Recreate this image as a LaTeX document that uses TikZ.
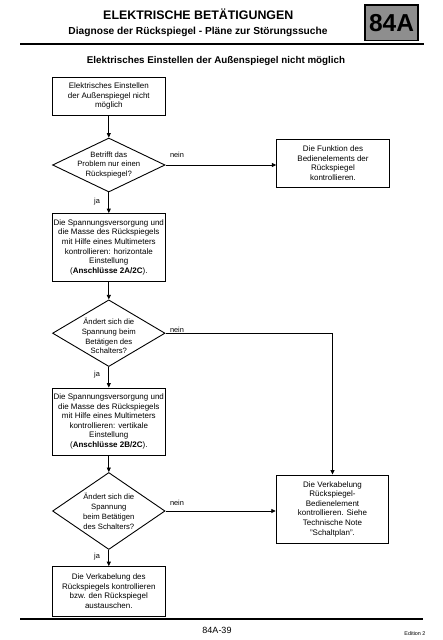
\documentclass[tikz,border=0pt]{standalone}
\usepackage{fontspec}
\setmainfont{Liberation Sans}
\usetikzlibrary{shapes.geometric,arrows.meta}
\definecolor{boxgray}{RGB}{142,142,142}
\begin{document}
\begin{tikzpicture}[x=1pt,y=-1pt,
 box/.style={draw,line width=0.9pt,align=center,inner sep=0pt,minimum width=112.5pt,font=\fontsize{8.0}{9.6}\selectfont},
 dia/.style={draw,diamond,line width=0.9pt,inner sep=0pt,minimum width=112.5pt},
 dtext/.style={align=center,inner sep=0pt,font=\fontsize{7.7}{9.8}\selectfont},
 lbl/.style={inner sep=0pt,font=\fontsize{7.4}{9}\selectfont},
 conn/.style={line width=0.8pt,-{Triangle[length=4.5pt,width=4pt]}},
 rule/.style={line width=2pt}
]
\useasboundingbox (0,0) rectangle (443,640);
% header
\node[font=\fontsize{12.4}{14}\selectfont\bfseries] (title) at (198.3,13.8) {ELEKTRISCHE BETÄTIGUNGEN};
\node[font=\fontsize{10.2}{12}\selectfont\bfseries] (sub) at (198,32.3) {Diagnose der Rückspiegel - Pläne zur Störungssuche};
\node[draw,line width=1.2pt,fill=boxgray,minimum width=53pt,minimum height=35.7pt,inner sep=0pt,font=\fontsize{24.5}{26}\selectfont\bfseries] (tag) at (391.5,22.9) {84A};
\coordinate (tl) at (20,44.3);
\coordinate (tr) at (424,44.3);
\draw[rule] (tl) -- (tr);
\node[font=\fontsize{9.8}{11}\selectfont\bfseries] (head) at (216,61) {Elektrisches Einstellen der Außenspiegel nicht möglich};
% flow
\node[box,minimum height=37.7pt] (b1) at (108.8,96.2) {Elektrisches Einstellen\\der Außenspiegel nicht\\möglich};
\node[dia,minimum height=54pt] (d1) at (108.8,165) {};
\node[dtext] (d1t) at (108.8,165) {Betrifft das\\Problem nur einen\\Rückspiegel?};
\node[box,minimum height=48pt] (bf) at (333,163) {Die Funktion des\\Bedienelements der\\Rückspiegel\\kontrollieren.};
\node[box,minimum height=67.5pt] (b2) at (108.8,247.3) {Die Spannungsversorgung und\\die Masse des Rückspiegels\\mit Hilfe eines Multimeters\\kontrollieren: horizontale\\Einstellung\\(\textbf{Anschlüsse 2A/2C}).};
\node[dia,minimum height=66.7pt] (d2) at (108.8,333.2) {};
\node[dtext] (d2t) at (108.8,336) {Ändert sich die\\Spannung beim\\Betätigen des\\Schalters?};
\node[box,minimum height=67pt] (b3) at (108.8,421.5) {Die Spannungsversorgung und\\die Masse des Rückspiegels\\mit Hilfe eines Multimeters\\kontrollieren: vertikale\\Einstellung\\(\textbf{Anschlüsse 2B/2C}).};
\node[dia,minimum height=77pt] (d3) at (108.8,511) {};
\node[dtext] (d3t) at (108.8,511.5) {Ändert sich die\\Spannung\\beim Betätigen\\des Schalters?};
\node[box,minimum height=68pt] (b4) at (332.5,509) {Die Verkabelung\\Rückspiegel-\\Bedienelement\\kontrollieren. Siehe\\Technische Note\\"Schaltplan".};
\node[box,minimum height=49.3pt] (b5) at (108.8,591.3) {Die Verkabelung des\\Rückspiegels kontrollieren\\bzw. den Rückspiegel\\austauschen.};
% connectors
\draw[conn] (b1) -- (d1);
\draw[conn] (d1.east) -- (bf.west |- d1.east);
\draw[conn] (d1.south) -- (b2.north);
\draw[conn] (b2) -- (d2);
\draw[conn] (d2.east) -| (b4.north);
\draw[conn] (d2.south) -- (b3.north);
\draw[conn] (b3) -- (d3);
\draw[conn] (d3.east) -- (b4.west |- d3.east);
\draw[conn] (d3.south) -- (b5.north);
% labels
\node[lbl] (n1) at (177,155) {nein};
\node[lbl] (j1) at (97,201.7) {ja};
\node[lbl] (n2) at (177,329.5) {nein};
\node[lbl] (j2) at (97,375) {ja};
\node[lbl] (n3) at (177,503.3) {nein};
\node[lbl] (j3) at (97,556.5) {ja};
% footer
\coordinate (bl) at (20,619);
\coordinate (br) at (423,619);
\draw[rule] (bl) -- (br);
\node[font=\fontsize{9}{10}\selectfont] (page) at (217,630) {84A-39};
\node[anchor=east,font=\fontsize{5.4}{6}\selectfont] (ed) at (429,634) {Edition 2};
\end{tikzpicture}
\end{document}
